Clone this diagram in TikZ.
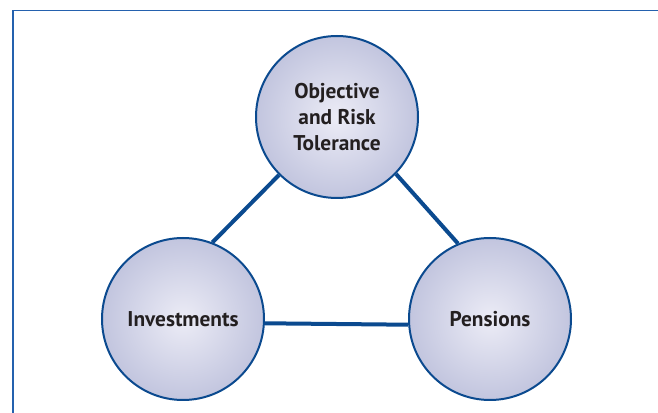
\documentclass[tikz,border=0pt]{standalone}
\usepackage{fontspec}
\setsansfont{PT Sans}
\definecolor{ringblue}{HTML}{0B4A8F}
\definecolor{frameblue}{HTML}{2461AE}
\definecolor{ballin}{HTML}{ECECF6}
\definecolor{ballout}{HTML}{989EC7}
\definecolor{labelgray}{HTML}{231F20}
\pgfdeclareradialshading{ballshade}{\pgfpoint{0bp}{0bp}}{color(0bp)=(ballin); color(50bp)=(ballout)}
\begin{document}
\begin{tikzpicture}[x=.75pt,y=-.75pt,line width=1.5pt,
  ball/.style={circle,draw=ringblue,shading=ballshade,minimum size=121.5pt,inner sep=0pt,
    align=center,text=labelgray,font=\sffamily\bfseries\fontsize{16}{19.5}\selectfont},
  link/.style={draw=ringblue,line width=3pt}]
  \useasboundingbox (0,0) rectangle (658,413);
  \clip (0,0) rectangle (658,413);
  \draw[frameblue,line width=1pt] (13,420)--(13,10.5)--(665,10.5);
  \node[ball] (goal) at (337,117) {Objective\\and Risk\\Tolerance};
  \node[ball] (invest) at (183,319) {Investments};
  \node[ball] (pension) at (490,319) {Pensions};
  \draw[link] (goal.225)--(invest.69);
  \draw[link] (goal.316)--(pension.113);
  \draw[link] (invest.-3)--(pension.184);
\end{tikzpicture}
\end{document}
